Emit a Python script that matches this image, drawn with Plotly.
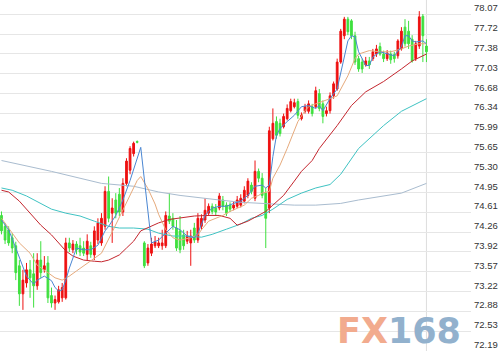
import plotly.graph_objects as go

# ---- data ----
opens = [74.55, 74.36, 74.30, 74.16, 74.02, 73.67, 73.18, 73.37, 73.60, 73.53,
         73.32, 73.77, 73.60, 73.72, 73.15, 73.02, 73.04, 73.11, 73.11, 74.07,
         73.95, 74.05, 74.02, 73.98, 73.87, 74.02, 73.86, 74.12, 74.07, 74.36,
         74.97, 74.59, 74.82, 74.92, 74.61, 75.11, 75.34, 75.63, 75.84, None,
         74.07, 73.72, 73.89, 74.02, 74.02, 74.02, 74.02, 74.54, 74.50, 74.33,
         74.28, 74.21, 74.10, 74.07, 74.33, 74.12, 74.36, 74.47, 74.59, 74.71,
         74.68, 74.68, 74.82, 74.73, 74.73, 74.68, 74.71, 74.73, 74.80, 74.90,
         75.08, 74.85, 75.32, 75.20, 74.94, 74.68, 75.89, 76.19, 76.16, 76.10,
         76.24, 76.38, 76.45, 76.54, 76.24, 76.37, 76.37, 76.45, 76.45, 76.68,
         76.50, 76.33, 76.38, 76.64, 76.76, 77.23, 77.69, 77.98, 77.95, 77.69,
         77.29, 77.23, 77.18, 77.25, 77.29, 77.37, 77.50, 77.37, 77.29, 77.37,
         77.36, 77.34, 77.46, 77.84, 77.77, 77.63, 77.29, 77.51, 78.03, 77.51]
closes = [74.28, 74.12, 74.07, 73.98, 73.55, 73.18, 73.42, 73.60, 73.46, 73.32,
          73.77, 73.55, 73.67, 73.11, 73.02, 73.08, 73.25, 73.29, 74.07, 73.98,
          74.05, 73.95, 73.91, 73.89, 74.10, 73.87, 74.28, 74.42, 74.50, 74.97,
          74.50, 74.68, 74.59, 74.61, 75.11, 75.50, 75.72, 75.81, 75.83, None,
          73.67, 73.98, 74.05, 74.09, 74.07, 74.07, 74.55, 74.45, 74.36, 73.98,
          73.95, 74.02, 74.19, 74.19, 74.12, 74.50, 74.50, 74.64, 74.71, 74.62,
          74.61, 74.89, 74.71, 74.59, 74.66, 74.73, 74.82, 74.85, 74.99, 75.15,
          74.97, 75.32, 75.20, 74.90, 74.50, 76.03, 76.16, 75.95, 75.98, 76.28,
          76.42, 76.54, 76.52, 76.30, 76.30, 76.45, 76.50, 76.33, 76.73, 76.42,
          76.28, 76.38, 76.64, 76.85, 77.23, 77.77, 77.98, 77.76, 77.69, 77.23,
          77.11, 77.11, 77.25, 77.18, 77.41, 77.46, 77.37, 77.29, 77.39, 77.27,
          77.29, 77.60, 77.77, 77.55, 77.55, 77.25, 77.55, 78.02, 77.69, 77.41]
highs = [74.62, 74.42, 74.36, 74.24, 74.09, 73.77, 73.60, 73.72, 73.77, 73.89,
         73.89, 74.10, 73.84, 73.84, 73.29, 73.15, 73.32, 73.37, 74.16, 74.16,
         74.12, 74.10, 74.16, 74.10, 74.22, 74.09, 74.36, 74.50, 74.59, 75.06,
         75.23, 74.85, 74.94, 75.03, 75.20, 75.55, 75.76, 75.84, 75.86, None,
         74.10, 74.05, 74.16, 74.19, 74.16, 74.30, 74.62, 74.94, 74.59, 74.47,
         74.54, 74.30, 74.28, 74.30, 74.42, 74.59, 74.57, 74.85, 74.76, 74.76,
         74.75, 74.94, 74.89, 74.78, 74.78, 74.80, 74.89, 74.92, 75.06, 75.20,
         75.13, 75.51, 75.37, 75.29, 75.03, 76.10, 76.42, 76.28, 76.24, 76.33,
         76.49, 76.59, 76.59, 76.59, 76.35, 76.50, 76.56, 76.50, 76.80, 76.76,
         76.56, 76.45, 76.70, 76.89, 77.29, 77.81, 78.02, 78.02, 77.98, 77.76,
         77.34, 77.29, 77.32, 77.32, 77.46, 77.53, 77.57, 77.43, 77.44, 77.43,
         77.41, 77.63, 77.84, 77.98, 77.95, 77.70, 77.60, 78.12, 78.07, 77.63]
lows = [74.22, 74.05, 74.02, 73.89, 73.42, 72.97, 72.90, 73.29, 73.11, 72.94,
        73.25, 73.46, 73.55, 73.02, 72.94, 72.90, 73.01, 73.04, 73.08, 73.91,
        73.89, 73.87, 73.84, 73.84, 73.77, 73.81, 73.77, 74.05, 74.02, 74.30,
        74.43, 74.07, 74.50, 74.54, 74.54, 75.06, 75.27, 75.58, 75.81, None,
        73.63, 73.67, 73.84, 73.98, 73.98, 73.95, 73.98, 74.40, 74.30, 73.93,
        73.89, 73.95, 74.05, 73.67, 74.07, 74.07, 74.30, 74.42, 74.54, 74.57,
        74.54, 74.64, 74.64, 74.54, 74.61, 74.64, 74.68, 74.69, 74.76, 74.85,
        74.92, 74.80, 75.13, 74.85, 73.98, 74.59, 75.86, 75.89, 75.93, 76.07,
        76.21, 76.35, 76.42, 76.24, 76.21, 76.33, 76.33, 76.28, 76.42, 76.37,
        76.16, 76.28, 76.33, 76.59, 76.73, 77.20, 77.63, 77.70, 77.63, 77.18,
        77.06, 77.04, 77.15, 77.11, 77.25, 77.32, 77.34, 77.23, 77.25, 77.20,
        77.22, 77.29, 77.43, 77.50, 77.46, 77.22, 77.25, 77.46, 77.23, 77.23]

ma5_idx = [0, 2, 4, 6, 7, 9, 10, 12, 14, 15, 16, 17, 18, 19, 20, 21, 23, 25, 27, 29,
           30, 32, 34, 36, 39, 42, 44, 46, 48, 50, 52, 54, 55, 57, 59, 61, 63, 65, 67, 69,
           71, 73, 74, 75, 76, 77, 78, 80, 82, 84, 86, 88, 89, 90, 92, 94, 96, 97, 98, 99,
           100, 102, 103, 104, 106, 108, 110, 112, 113, 114, 115, 116, 118, 119]
ma5_val = [74.47, 74.30, 73.98, 73.67, 73.49, 73.35, 73.42, 73.49, 73.41, 73.29,
           73.23, 73.25, 73.42, 73.63, 73.81, 73.98, 73.95, 73.95, 74.03, 74.28,
           74.36, 74.55, 74.82, 75.16, 75.74, 74.07, 74.12, 74.24, 74.36, 74.30,
           74.19, 74.16, 74.24, 74.55, 74.68, 74.71, 74.71, 74.76, 74.80, 74.90,
           75.06, 75.08, 75.03, 75.08, 75.58, 75.95, 76.07, 76.19, 76.30, 76.45,
           76.47, 76.42, 76.47, 76.38, 76.59, 76.76, 77.29, 77.60, 77.69, 77.67,
           77.41, 77.17, 77.17, 77.32, 77.41, 77.37, 77.34, 77.50, 77.69, 77.69,
           77.60, 77.58, 77.60, 77.55]
ma10_idx = [0, 2, 5, 8, 10, 13, 15, 17, 19, 21, 23, 25, 27, 28, 31, 34, 36, 38, 39, 41,
            43, 44, 46, 48, 50, 53, 55, 56, 58, 60, 62, 64, 66, 68, 70, 72, 73, 75, 76, 78,
            80, 82, 83, 85, 86, 88, 90, 92, 94, 97, 99, 100, 103, 106, 109, 112, 114, 117, 119]
ma10_val = [74.50, 74.33, 74.07, 73.89, 73.68, 73.55, 73.46, 73.42, 73.49, 73.58,
            73.67, 73.75, 73.84, 73.89, 74.26, 74.64, 74.92, 75.16, 75.23, 75.02,
            74.75, 74.57, 74.30, 74.16, 74.12, 74.16, 74.21, 74.30, 74.45, 74.50,
            74.55, 74.62, 74.68, 74.73, 74.85, 74.90, 74.94, 74.97, 75.20, 75.43,
            75.72, 76.02, 76.19, 76.38, 76.45, 76.50, 76.54, 76.59, 76.64, 76.99,
            77.29, 77.37, 77.43, 77.41, 77.41, 77.46, 77.51, 77.55, 77.55]
ma20_idx = [0, 2, 5, 8, 11, 14, 16, 18, 20, 23, 26, 28, 30, 33, 35, 37, 39, 42, 44, 47,
            51, 54, 58, 61, 64, 66, 69, 72, 74, 76, 79, 82, 84, 87, 89, 94, 98, 102, 107, 112,
            115, 119]
ma20_val = [74.99, 74.96, 74.80, 74.59, 74.38, 74.21, 74.07, 73.93, 73.84, 73.77,
            73.75, 73.74, 73.77, 73.86, 73.98, 74.10, 74.28, 74.36, 74.42, 74.48,
            74.52, 74.54, 74.55, 74.55, 74.50, 74.38, 74.45, 74.55, 74.62, 74.73,
            74.90, 75.15, 75.32, 75.51, 75.72, 76.12, 76.47, 76.71, 76.89, 77.11,
            77.25, 77.37]
ma60_idx = [0, 3, 7, 11, 14, 18, 22, 26, 30, 33, 37, 41, 44, 48, 52, 56, 59, 63, 67, 70,
            73, 76, 80, 84, 88, 92, 95, 100, 107, 112, 119]
ma60_val = [75.03, 74.99, 74.89, 74.76, 74.66, 74.59, 74.54, 74.45, 74.36, 74.33,
            74.33, 74.31, 74.24, 74.19, 74.19, 74.17, 74.22, 74.31, 74.40, 74.50,
            74.55, 74.66, 74.83, 74.94, 75.03, 75.09, 75.27, 75.72, 76.12, 76.37, 76.59]
ma120_idx = [0, 7, 14, 22, 28, 37, 44, 50, 56, 61, 67, 72, 82, 88, 95, 100, 107, 112, 119]
ma120_val = [75.51, 75.42, 75.32, 75.20, 75.11, 75.06, 74.96, 74.90, 74.85, 74.82,
             74.78, 74.76, 74.73, 74.73, 74.76, 74.82, 74.89, 74.94, 75.11]

y_ticks = [78.07, 77.72, 77.38, 77.03, 76.68, 76.34, 75.99, 75.65, 75.30,
           74.95, 74.61, 74.26, 73.92, 73.57, 73.22, 72.88, 72.53, 72.19]

# ---- figure ----
valid = [i for i, o in enumerate(opens) if o is not None]
RED = "#ee1111"
GREEN = "#3fe03f"

fig = go.Figure()
fig.add_trace(go.Candlestick(
    x=valid,
    open=[opens[i] for i in valid],
    high=[highs[i] for i in valid],
    low=[lows[i] for i in valid],
    close=[closes[i] for i in valid],
    increasing=dict(line=dict(color=RED, width=1), fillcolor=RED),
    decreasing=dict(line=dict(color=GREEN, width=1), fillcolor=GREEN),
    whiskerwidth=0,
    hoverinfo="skip",
))
for xs, ys, col in [
    (ma120_idx, ma120_val, "#a9bccf"),
    (ma60_idx, ma60_val, "#3fc3c3"),
    (ma20_idx, ma20_val, "#c4262e"),
    (ma10_idx, ma10_val, "#e6aa7c"),
    (ma5_idx, ma5_val, "#4a86d2"),
]:
    fig.add_trace(go.Scatter(x=xs, y=ys, mode="lines",
                             line=dict(color=col, width=1), hoverinfo="skip"))

fig.add_shape(type="line", xref="x", yref="paper", x0=valid[-1], x1=valid[-1],
              y0=0, y1=1, line=dict(color="#dddddd", width=1), layer="below")

fig.add_annotation(
    xref="paper", yref="paper", x=0.848, y=0.057, xanchor="center", yanchor="middle",
    text="<span style='color:#f2ab8e'>FX</span><span style='color:#92b1cd'>168</span>",
    showarrow=False, font=dict(family="DejaVu Sans", size=35, weight="bold"),
)

fig.update_layout(
    width=500, height=351,
    margin=dict(l=0, r=29, t=0, b=0),
    paper_bgcolor="white", plot_bgcolor="white",
    showlegend=False,
    xaxis=dict(range=[-0.42, 131.48], visible=False, rangeslider=dict(visible=False),
               fixedrange=True),
    yaxis=dict(range=[72.1813, 78.3146], side="right", tickvals=y_ticks,
               ticktext=[f"{v:.2f}" for v in y_ticks],
               showgrid=True, gridcolor="#e6e6e6", gridwidth=1,
               zeroline=False, showline=False, ticks="",
               ticklabelshift=-6, ticklabelstandoff=2,
               tickfont=dict(family="Liberation Sans", size=9.5, color="#333333"),
               fixedrange=True),
)

fig.write_html("out.html")
